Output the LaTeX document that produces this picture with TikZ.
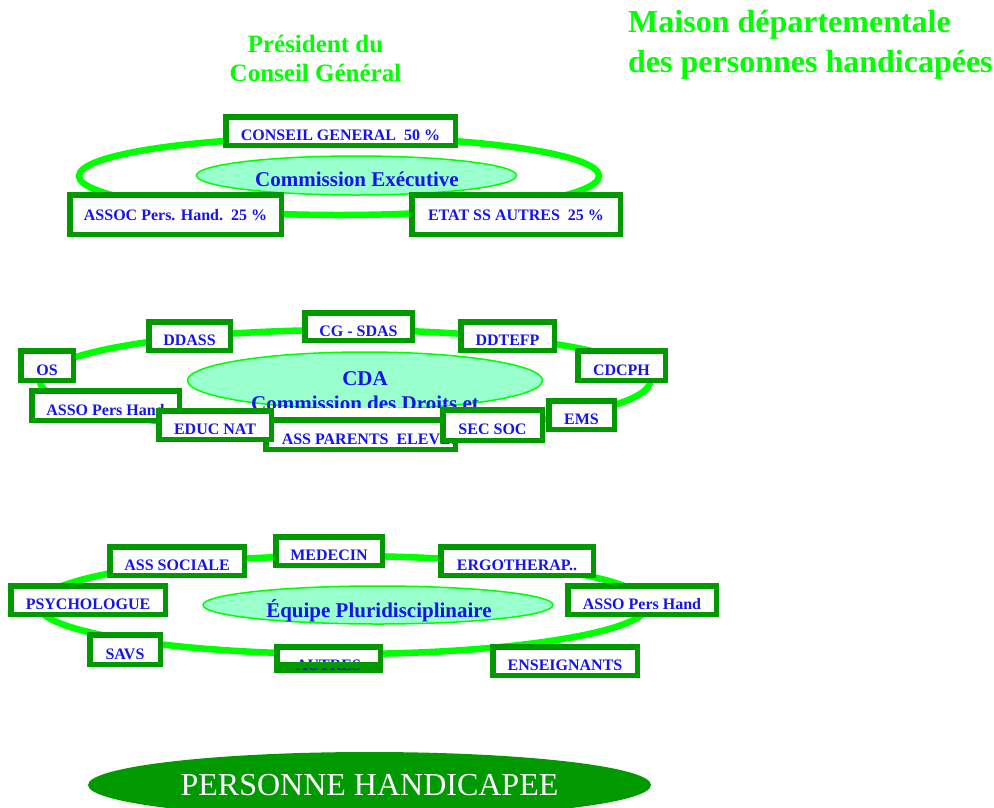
\documentclass[tikz,border=0pt]{standalone}
\usepackage{fontspec}
\setmainfont{Liberation Serif}
\usepackage{tikz}
\usetikzlibrary{shapes.geometric}

\definecolor{vert}{RGB}{0,255,0}
\definecolor{vertfonce}{RGB}{0,153,0}
\definecolor{menthe}{RGB}{153,255,204}
\definecolor{bleu}{RGB}{20,20,235}

\tikzset{
  baisse/.initial=4pt,
  anneau/.style={draw=vert, line width=6.5pt},
  bulle/.style={ellipse, draw=vert, line width=1.5pt, fill=menthe, inner sep=0pt},
  bulletxt/.style={text=bleu, font=\fontsize{21}{24.5}\selectfont\bfseries, inner sep=0pt, align=center},
  boitetxt/.style={text=bleu, font=\fontsize{16}{18}\selectfont\bfseries, inner sep=0pt},
  boite/.style={boitetxt, draw=vertfonce, line width=5.5pt, fill=white, text height=11pt, text depth=0pt,
    execute at begin node={\lower\pgfkeysvalueof{/tikz/baisse}\hbox\bgroup}, execute at end node={\egroup}},
  taille/.style 2 args={minimum width=#1pt, minimum height=#2pt},
  titre/.style={text=vert, inner sep=0pt}
}

\begin{document}
\begin{tikzpicture}[x=1pt,y=-1pt]
\useasboundingbox (0,0) rectangle (994,807);

\node[titre, font=\fontsize{25}{29}\selectfont\bfseries, align=center, anchor=north] (president) at (315.5,35) {Président du\\Conseil Général};
\node[titre, font=\fontsize{32}{40}\selectfont\bfseries, align=left, anchor=north west] (maison) at (628,10) {Maison départementale\\des personnes handicapées};

\draw[anneau] (339,176) ellipse [x radius=260pt, y radius=39pt];
\node[bulle, minimum width=320pt, minimum height=39pt] (cexec) at (356.5,175.5) {};
\node[bulletxt, anchor=base] (cexectxt) at (357,186.5) {Commission Exécutive};
\node[boite, taille={229.5}{28.5}] (conseil) at (340.5,131) {CONSEIL GENERAL\ \ 50 \%};
\node[boite, baisse=0pt, taille={211.5}{39.5}] (assoc) at (175.5,214.5) {ASSOC Pers. Hand.\ \ 25 \%};
\node[boite, baisse=0pt, taille={208.5}{39.5}] (etat) at (516,214.5) {ETAT SS AUTRES\ \ 25 \%};

\draw[anneau] (345,381) ellipse [x radius=305pt, y radius=51pt];
\node[bulle, minimum width=355pt, minimum height=57pt] (cda) at (365,380.5) {};
\node[bulletxt, anchor=north] (cdatxt) at (365,371.5) {CDA\\Commission des Droits et};
\node[boite, taille={52.5}{29.5}] (os) at (47,365.5) {OS};
\node[boite, taille={81.5}{28.5}] (ddass) at (189.5,336) {DDASS};
\node[boite, taille={107.5}{27.5}] (cgsdas) at (358.5,326.5) {CG - SDAS};
\node[boite, taille={93.5}{28.5}] (ddtefp) at (507.5,336) {DDTEFP};
\node[boite, taille={87.5}{29.5}] (cdcph) at (621.5,365.5) {CDCPH};
\node[boite, taille={65.5}{28.5}] (ems) at (581.5,415) {EMS};
\node[boite, taille={147.5}{29.5}] (asso) at (105.5,405.5) {ASSO Pers Hand};
\fill[white] (274,407.5) rectangle (440,417);
\node[boite, taille={189.5}{29.5}] (parents) at (360.5,434.5) {\makebox[189.5pt][l]{\hspace{16pt}ASS PARENTS\ \ ELEVES}};
\node[boite, taille={112.5}{28.5}] (educnat) at (215,425) {EDUC NAT};
\node[boite, taille={99.5}{30.5}] (secsoc) at (492.5,425) {SEC SOC};

\draw[anneau] (343,605) ellipse [x radius=305pt, y radius=49pt];
\node[bulle, minimum width=350pt, minimum height=38pt] (equipe) at (378,605) {};
\node[bulletxt, anchor=base] (equipetxt) at (379,617) {Équipe Pluridisciplinaire};
\node[boite, taille={134.5}{28.5}] (asssociale) at (177,561) {ASS SOCIALE};
\node[boite, taille={106.5}{28.5}] (medecin) at (329,551) {MEDECIN};
\node[boite, taille={152.5}{28.5}] (ergo) at (517,561) {ERGOTHERAP..};
\node[boite, taille={154.5}{28.5}] (psycho) at (88,600) {PSYCHOLOGUE};
\node[boite, taille={148.5}{28.5}] (assoph) at (642,600) {ASSO Pers Hand};
\node[boite, taille={70.5}{29.5}] (savs) at (125,649.5) {SAVS};
\node[boite, taille={103.5}{23.5}] (autres) at (328.5,658.5) {};
\node[boitetxt, anchor=base] (autrestxt) at (328.5,670) {AUTRES};
\fill[vertfonce] (279,662) rectangle (378,668);
\node[boite, taille={144.5}{28.5}] (enseign) at (565,661) {ENSEIGNANTS};

\node[ellipse, fill=vertfonce, text=white, font=\fontsize{32}{36}\selectfont, inner sep=0pt, minimum width=563pt, minimum height=66pt] (personne) at (369.5,785) {PERSONNE HANDICAPEE};
\end{tikzpicture}
\end{document}
